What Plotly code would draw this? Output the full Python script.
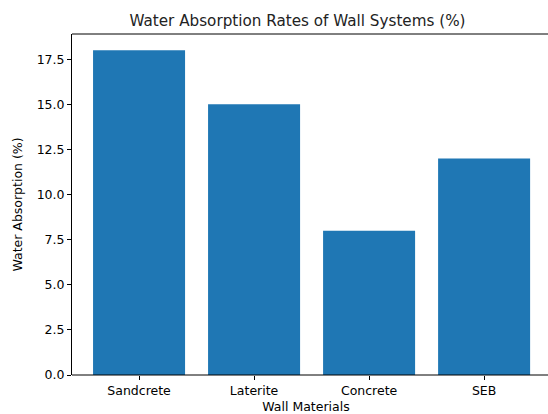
import plotly.graph_objects as go

materials = ["Sandcrete", "Laterite", "Concrete", "SEB"]
absorption = [18, 15, 8, 12]
y_ticks = [0, 2.5, 5, 7.5, 10, 12.5, 15, 17.5]

W = 548
L, R = 72, 8
span_extend = (W - L) / (W - L - R)  # spines continue to the page edge

fig = go.Figure(go.Bar(x=materials, y=absorption, marker_color="#1f77b4",
                       marker_line_width=0, width=0.8))

font = "DejaVu Sans"
fig.update_layout(
    width=W, height=414,
    margin=dict(l=L, r=R, t=34, b=38.5),
    plot_bgcolor="white", paper_bgcolor="white",
    font=dict(family=font, size=12.5, color="black"),
    showlegend=False,
    title=dict(text="Water Absorption Rates of Wall Systems (%)", x=297.5/W, xanchor="center",
               xref="container", y=1 - 21/414, yanchor="middle", yref="container",
               font=dict(size=15.2, family=font, color="#222")),
    xaxis=dict(range=[-0.583, 3.486], showline=False,
               ticks="outside", ticklen=4, tickcolor="black",
               showgrid=False, zeroline=False, automargin=False,
               title=dict(text="Wall Materials", standoff=5, font=dict(size=12.5))),
    yaxis=dict(range=[0, 18.9], tickvals=y_ticks, tickformat=".1f", showline=True,
               linecolor="black", linewidth=1, ticks="outside", ticklen=4, tickcolor="black",
               mirror=False, showgrid=False, zeroline=False, automargin=False,
               title=dict(text="Water Absorption (%)", standoff=11, font=dict(size=12.5))),
    shapes=[
        dict(type="line", xref="paper", yref="paper", x0=0, x1=span_extend, y0=1, y1=1,
             line=dict(color="black", width=1), layer="above"),
        dict(type="line", xref="paper", yref="paper", x0=0, x1=span_extend, y0=0, y1=0,
             line=dict(color="black", width=1), layer="above"),
    ],
)
fig.write_html("out.html", config={"displayModeBar": False})

with open("out.html", "r", encoding="utf-8") as f:
    html = f.read()
html = html.replace("<body>", '<body style="margin:0;padding:0;overflow:hidden">', 1)
with open("out.html", "w", encoding="utf-8") as f:
    f.write(html)
